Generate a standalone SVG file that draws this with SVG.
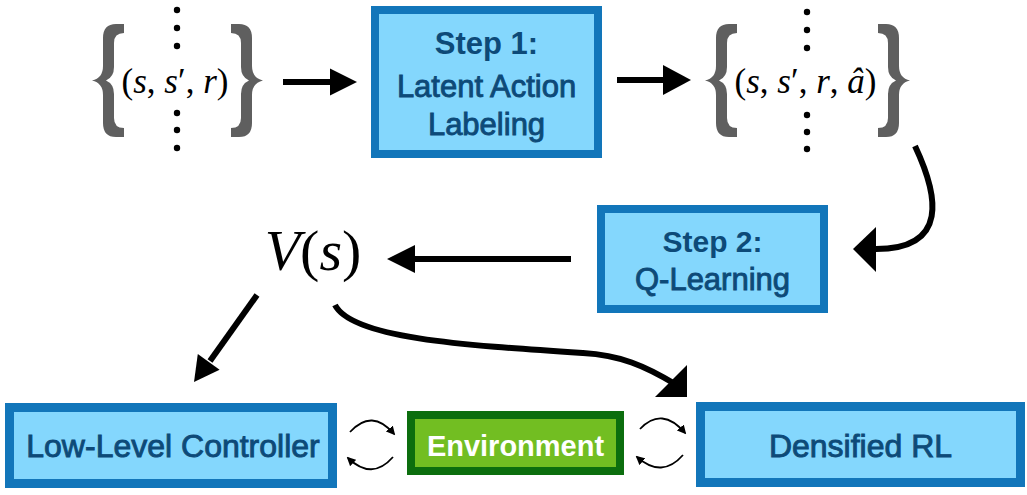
<svg xmlns="http://www.w3.org/2000/svg" width="1027" height="495" viewBox="0 0 1027 495">
<style>
.box{fill:#84d7fd;stroke:#1276ba;}
.env{fill:#72be22;stroke:#0c6e0e;stroke-width:8;}
.lbl{font-family:"Liberation Sans",Arial,sans-serif;fill:#0d4a78;text-anchor:middle;}
.bold{font-weight:bold;}
.med{stroke:#0d4a78;stroke-width:0.9;}
.math{font-family:"Liberation Serif","Times New Roman",serif;fill:#000;text-anchor:middle;}
.it{font-style:italic;}
.brace{fill:#5f5f5f;}
.dot{fill:#000;}
.line{fill:none;stroke:#000;stroke-width:6;}
.thin{fill:none;stroke:#000;stroke-width:1.8;}
.head{fill:#000;}
</style>
<defs>
<path id="brace" class="brace" d="M124,24 L116,24 Q103,24 103,38 L103,66 Q103,78 92,80.5 Q103,83 103,95 L103,123 Q103,137 116,137 L124,137 L124,128 Q114,128 114,118 L114,94 Q114,84 106,80.5 Q114,77 114,67 L114,43 Q114,33 124,33 Z"/>
<marker id="sm" viewBox="0 0 10 10" refX="8" refY="5" markerWidth="9" markerHeight="9" markerUnits="userSpaceOnUse" orient="auto">
<path d="M0,0 L10,5 L0,10 Z" fill="#000"/>
</marker>
</defs>

<g id="set-left">
<use href="#brace"/>
<use href="#brace" transform="translate(355,0) scale(-1,1)"/>
<circle class="dot" cx="177" cy="10" r="3.2"/>
<circle class="dot" cx="177" cy="28" r="3.2"/>
<circle class="dot" cx="177" cy="46" r="3.2"/>
<circle class="dot" cx="177" cy="113" r="3.2"/>
<circle class="dot" cx="177" cy="130" r="3.2"/>
<circle class="dot" cx="177" cy="148" r="3.2"/>
<text class="math" x="175" y="93" font-size="35">(<tspan class="it">s</tspan>, <tspan class="it">s</tspan>′, <tspan class="it">r</tspan>)</text>
</g>

<g id="step1">
<rect class="box" x="375" y="10" width="223" height="144" stroke-width="8"/>
<text class="lbl bold" x="486.5" y="54" font-size="31">Step 1:</text>
<text class="lbl med" x="486.5" y="97" font-size="31">Latent Action</text>
<text class="lbl med" x="486.5" y="135" font-size="31">Labeling</text>
</g>

<g id="set-right">
<use href="#brace" transform="translate(613,0)"/>
<use href="#brace" transform="translate(1002,0) scale(-1,1)"/>
<circle class="dot" cx="807" cy="12" r="3.2"/>
<circle class="dot" cx="807" cy="30" r="3.2"/>
<circle class="dot" cx="807" cy="48" r="3.2"/>
<circle class="dot" cx="807" cy="115" r="3.2"/>
<circle class="dot" cx="807" cy="132" r="3.2"/>
<circle class="dot" cx="807" cy="149" r="3.2"/>
<text class="math" x="805.5" y="93" font-size="35">(<tspan class="it">s</tspan>, <tspan class="it">s</tspan>′, <tspan class="it">r</tspan>, <tspan class="it">â</tspan>)</text>
</g>

<g id="step2">
<rect class="box" x="601" y="209" width="223" height="100" stroke-width="8"/>
<text class="lbl bold" x="712.5" y="252" font-size="30">Step 2:</text>
<text class="lbl med" x="712.5" y="290" font-size="31">Q-Learning</text>
</g>

<g id="value">
<text class="math" x="313" y="270" font-size="58"><tspan class="it">V</tspan>(<tspan class="it">s</tspan>)</text>
</g>

<g id="controller">
<rect class="box" x="9.5" y="407.5" width="323" height="76" stroke-width="9"/>
<text class="lbl med" x="173" y="457" font-size="32">Low-Level Controller</text>
</g>

<g id="environment">
<rect class="env" x="411" y="415" width="209" height="56"/>
<text class="lbl bold" x="515.5" y="456" font-size="29" style="fill:#fff">Environment</text>
</g>

<g id="densified">
<rect class="box" x="700.5" y="406.5" width="320" height="76" stroke-width="9"/>
<text class="lbl med" x="860.5" y="457" font-size="32">Densified RL</text>
</g>

<g id="connectors">
<line class="line" x1="283" y1="82" x2="333" y2="82"/>
<polygon class="head" points="357,82 330,68.5 330,95.5"/>
<line class="line" x1="617" y1="80" x2="665" y2="80"/>
<polygon class="head" points="691,80 663,65 663,95"/>
<path class="line" d="M915,146 C938,195 950,250 874,249"/>
<polygon class="head" points="853,249 876,227 876,272"/>
<line class="line" x1="571" y1="259" x2="412" y2="259"/>
<polygon class="head" points="387,259 415,245 415,273"/>
<line class="line" x1="257" y1="295" x2="210" y2="361"/>
<polygon class="head" points="194,382 197.8,353.9 219.6,369.7"/>
<path class="line" d="M335,305 C352,338 460,345 583,353 C620,355 645,366 675,384"/>
<polygon class="head" points="687,365 687,397 655,397"/>
<path class="thin" d="M350,432 Q372,408 394,434" marker-end="url(#sm)"/>
<path class="thin" d="M393,457 Q372,481 348,458" marker-end="url(#sm)"/>
<path class="thin" d="M640,429 Q662,406 685,433" marker-end="url(#sm)"/>
<path class="thin" d="M683,455 Q662,479 637,457" marker-end="url(#sm)"/>
</g>
</svg>
